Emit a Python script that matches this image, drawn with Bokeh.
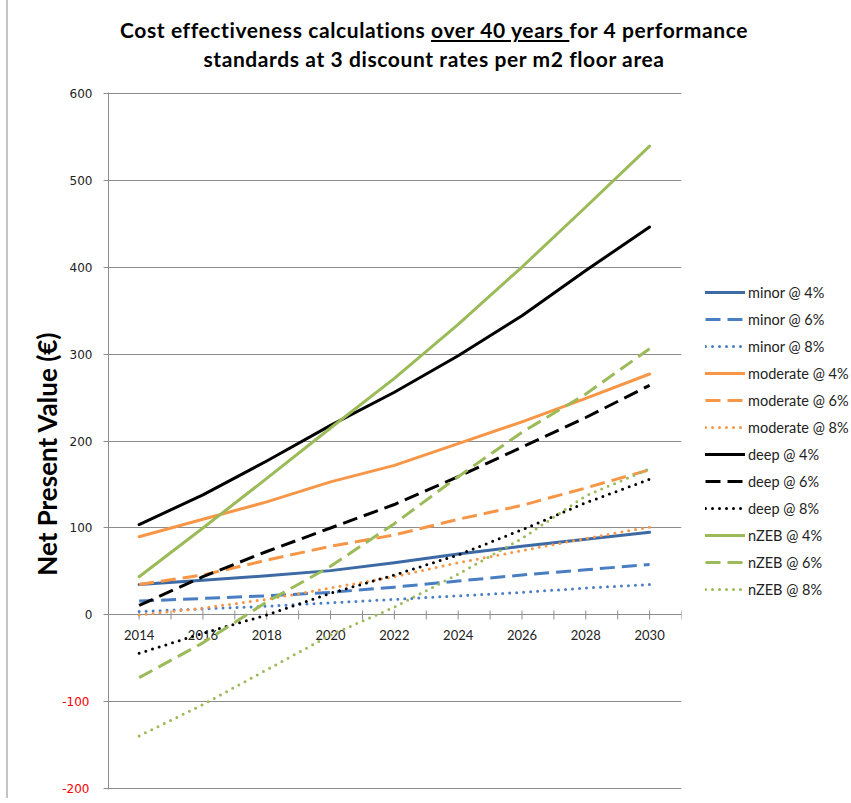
import math
from bokeh.plotting import figure
from bokeh.models import (Range1d, Legend, LegendItem, Div, FixedTicker, LinearAxis)
from bokeh.layouts import column
from bokeh.embed import file_html
from bokeh.resources import INLINE
from bokeh.core.properties import value

# ---------------- data ----------------
years = [2014, 2016, 2018, 2020, 2022, 2024, 2026, 2028, 2030]
minor_4 = [35, 40, 45, 51, 60, 70, 79, 87, 95]
minor_6 = [16, 19, 22, 26, 32, 39, 46, 52, 58]
minor_8 = [4, 7, 10, 14, 18, 22, 26, 31, 35]
moderate_4 = [90, 110, 130, 153, 172, 197, 222, 249, 277]
moderate_6 = [35, 46, 63, 79, 92, 110, 126, 146, 167]
moderate_8 = [0, 8, 18, 31, 44, 60, 74, 88, 101]
deep_4 = [104, 138, 177, 218, 256, 298, 344, 396, 446]
deep_6 = [11, 44, 73, 100, 127, 159, 193, 227, 264]
deep_8 = [-44, -21, 0, 25, 46, 69, 98, 129, 156]
nzeb_4 = [44, 100, 157, 215, 272, 334, 400, 469, 539]
nzeb_6 = [-72, -32, 15, 56, 105, 159, 210, 254, 306]
nzeb_8 = [-139, -103, -63, -23, 9, 47, 88, 137, 168]

series_names = ["minor @ 4%", "minor @ 6%", "minor @ 8%",
                "moderate @ 4%", "moderate @ 6%", "moderate @ 8%",
                "deep @ 4%", "deep @ 6%", "deep @ 8%",
                "nZEB @ 4%", "nZEB @ 6%", "nZEB @ 8%"]
series_values = [minor_4, minor_6, minor_8, moderate_4, moderate_6, moderate_8,
                 deep_4, deep_6, deep_8, nzeb_4, nzeb_6, nzeb_8]

y_ticks = [-200, -100, 0, 100, 200, 300, 400, 500, 600]
x_tick_years = list(range(2014, 2032))
x_label_years = list(range(2014, 2031, 2))

# ---------------- styles ----------------
C_BLUE_DARK = "#3D69A5"
C_BLUE = "#4A7EC2"
C_ORANGE = "#F79646"
C_BLACK = "#000000"
C_GREEN = "#9BBB59"
GRID = "#8C8C8C"

colors = [C_BLUE_DARK, C_BLUE, C_BLUE,
          C_ORANGE, C_ORANGE, C_ORANGE,
          C_BLACK, C_BLACK, C_BLACK,
          C_GREEN, C_GREEN, C_GREEN]
dashes = ["solid", "15 7", "0 7"] * 4
caps = ["round", "butt", "round"] * 4

X0, X1 = 2013.04, 2031.0

p = figure(frame_width=573, frame_height=697, output_backend="svg",
           toolbar_location=None,
           x_range=Range1d(X0, X1), y_range=Range1d(-200.6, 600.6),
           min_border_left=100, min_border_right=170,
           min_border_top=4, min_border_bottom=9)
p.outline_line_color = None
p.background_fill_color = "white"
p.border_fill_color = "white"

p.xaxis.visible = False
p.xgrid.visible = False
p.ygrid.ticker = FixedTicker(ticks=y_ticks)
p.ygrid.grid_line_color = GRID
p.ygrid.grid_line_width = 1

neg_ticks = [t for t in y_ticks if t < 0]

# main (inner) y axis: line, all ticks, non-negative labels
yax = p.yaxis[0]
yax.ticker = FixedTicker(ticks=y_ticks)
yax.axis_line_color = GRID
yax.major_tick_line_color = GRID
yax.major_tick_out = 5
yax.major_tick_in = 0
yax.minor_tick_line_color = None
yax.major_label_standoff = 11
yax.major_label_text_font = "DejaVu Sans"
yax.major_label_text_font_size = "12px"
yax.major_label_text_color = "#222222"
yax.major_label_overrides = {t: "" for t in neg_ticks}

# outer y axis: red negative labels pulled back under the inner axis + title
neg_axis = LinearAxis(ticker=FixedTicker(ticks=neg_ticks),
                      axis_line_color=None, major_tick_line_color=None,
                      major_tick_out=0, major_tick_in=0,
                      minor_tick_line_color=None, major_label_standoff=-23,
                      major_label_overrides={t: str(t) for t in neg_ticks},
                      major_label_text_font="DejaVu Sans",
                      major_label_text_font_size="12px",
                      major_label_text_color="#FF0000",
                      axis_label="Net Present Value (€)" + "\u00a0" * 4,
                      axis_label_text_font="Lato",
                      axis_label_text_font_style="bold",
                      axis_label_text_font_size="26px",
                      axis_label_text_color="#000000",
                      axis_label_standoff=-4)
p.add_layout(neg_axis, "left")

# x axis drawn at y = 0 (ticks + labels)
p.scatter(x=x_tick_years, y=[0] * len(x_tick_years), marker="dash",
          angle=math.pi / 2, size=9, line_color=GRID, line_width=1)
p.text(x=x_label_years, y=[0] * len(x_label_years),
       text=[str(v) for v in x_label_years], text_align="center",
       text_baseline="middle", y_offset=20, text_font=value("Lato"),
       text_font_size="13px", text_color="#222222")

items = []
for name, vals, col, dash, cap in zip(series_names, series_values, colors, dashes, caps):
    r = p.line(years, vals, line_color=col, line_width=3, line_dash=dash,
               line_cap=cap, line_join="round")
    items.append(LegendItem(label=name, renderers=[r]))

legend = Legend(items=items, location=(24, 190), margin=0, padding=0,
                glyph_width=40, glyph_height=20, label_height=20, spacing=7,
                label_standoff=3, label_text_font="Lato",
                label_text_font_size="14.5px", label_text_color="#222222",
                border_line_color=None, background_fill_alpha=0)
p.add_layout(legend, "right")

title_html = ('<div style="display: block; width: 843px; padding-left: 9px; '
              'font-family: Lato; font-weight: bold; font-size: 21px; '
              'letter-spacing: 0.6px; line-height: 29px; text-align: center; '
              'color: #000; padding-top: 15px;">'
              'Cost effectiveness calculations <u>over 40 years </u>for 4 performance<br>'
              'standards at 3 discount rates per m2 floor area</div>')
title = Div(text=title_html, width=843, height=88, margin=(0, 0, 0, 0))

layout = column(title, p, spacing=0,
                styles={"margin-left": "6px", "border-left": "2px solid #C4C4C4"})
open("out.html", "w").write(file_html(layout, INLINE))
